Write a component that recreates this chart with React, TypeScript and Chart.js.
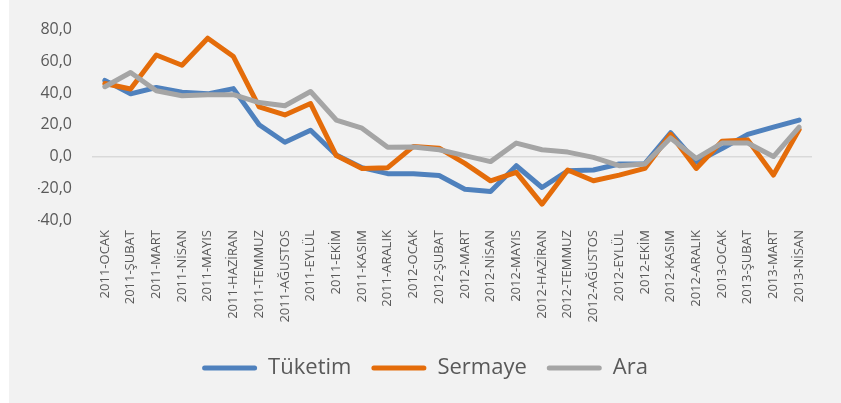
import React, { useEffect, useRef } from "react";
import { Chart, registerables } from "chart.js";

Chart.register(...registerables);

const categories = [
  "2011-OCAK", "2011-ŞUBAT", "2011-MART", "2011-NİSAN", "2011-MAYIS", "2011-HAZİRAN",
  "2011-TEMMUZ", "2011-AĞUSTOS", "2011-EYLÜL", "2011-EKİM", "2011-KASIM", "2011-ARALIK",
  "2012-OCAK", "2012-ŞUBAT", "2012-MART", "2012-NİSAN", "2012-MAYIS", "2012-HAZİRAN",
  "2012-TEMMUZ", "2012-AĞUSTOS", "2012-EYLÜL", "2012-EKİM", "2012-KASIM", "2012-ARALIK",
  "2013-OCAK", "2013-ŞUBAT", "2013-MART", "2013-NİSAN",
];

const tuketim = [
  48, 39.5, 43.5, 40.5, 39.5, 42.8, 20, 9, 16.6, 1, -7, -10.8,
  -10.8, -12, -20.6, -22, -5.8, -19.5, -9, -8.5, -4.7, -4.5, 15, -3.5,
  5, 14, 18.5, 23,
];

const sermaye = [
  46, 42.6, 64, 57.5, 74.6, 63, 31.3, 26.2, 33.4, 0.6, -7.5, -7,
  6.4, 5.3, -4.3, -15.3, -10, -30, -8.5, -15.3, -11.7, -7.5, 14, -7.5,
  9.6, 10.5, -11.7, 17,
];

const ara = [
  44, 53, 41.5, 38.3, 39, 39, 34, 32, 41, 23, 17.9, 5.8,
  6, 4.3, 0.6, -3.2, 8.5, 4.3, 2.8, -0.5, -5.8, -4.7, 11.7, -1.2,
  8.5, 8.5, 0, 18.5,
];

const yMin = -40;
const yMax = 80;
const yStep = 20;

const FONT = "'Open Sans', 'Noto Sans', sans-serif";
const TEXT = "#595959";

export default function App() {
  const ref = useRef<HTMLCanvasElement | null>(null);

  useEffect(() => {
    if (!ref.current) return;
    const mk = (label: string, data: number[], color: string, order: number) => ({
      label,
      data,
      borderColor: color,
      backgroundColor: color,
      borderWidth: 5,
      pointRadius: 0,
      pointHoverRadius: 0,
      tension: 0,
      borderJoinStyle: "round" as const,
      borderCapStyle: "round" as const,
      order,
    });
    const chart = new Chart(ref.current, {
      type: "line",
      data: {
        labels: categories,
        datasets: [
          mk("Tüketim", tuketim, "#4F81BD", 3),
          mk("Sermaye", sermaye, "#E46C0A", 2),
          mk("Ara", ara, "#A5A5A5", 1),
        ],
      },
      options: {
        responsive: false,
        animation: false,
        devicePixelRatio: 1,
        layout: { padding: { top: 29, left: 29, right: 29, bottom: 14 } },
        plugins: {
          tooltip: { enabled: false },
          legend: {
            position: "bottom",
            labels: {
              boxWidth: 55,
              boxHeight: 5,
              useBorderRadius: true,
              borderRadius: 2.5,
              padding: 20,
              color: TEXT,
              font: { family: FONT, size: 22 },
              sort: (a: any, b: any) => a.datasetIndex - b.datasetIndex,
              generateLabels: (chart: any) =>
                Chart.defaults.plugins.legend.labels
                  .generateLabels(chart)
                  .map((it: any) => ({ ...it, lineWidth: 0 })),
            },
          },
        },
        scales: {
          x: {
            offset: true,
            grid: { display: false, drawTicks: false, offset: true },
            border: { display: false },
            ticks: {
              minRotation: 90,
              maxRotation: 90,
              autoSkip: false,
              padding: 10,
              color: TEXT,
              font: { family: FONT, size: 13 },
            },
            afterFit: (s: any) => {
              s.height = 117;
            },
          },
          y: {
            min: yMin,
            max: yMax,
            border: { display: false },
            grid: {
              drawTicks: false,
              color: (ctx: any) => (ctx.tick && ctx.tick.value === 0 ? "#D9D9D9" : "rgba(0,0,0,0)"),
              lineWidth: 1.5,
            },
            ticks: {
              stepSize: yStep,
              padding: 20,
              color: TEXT,
              font: { family: FONT, size: 16 },
              callback: (v: any) => Number(v).toFixed(1).replace(".", ","),
            },
            afterFit: (s: any) => {
              s.width = 54;
            },
          },
        },
      },
    });
    return () => chart.destroy();
  }, []);

  return (
    <div
      style={{
        position: "fixed",
        left: 9,
        top: 0,
        width: 832,
        height: 403,
        background: "#F2F2F2",
      }}
    >
      <canvas ref={ref} width={832} height={403} style={{ display: "block", width: 832, height: 403 }} />
    </div>
  );
}
